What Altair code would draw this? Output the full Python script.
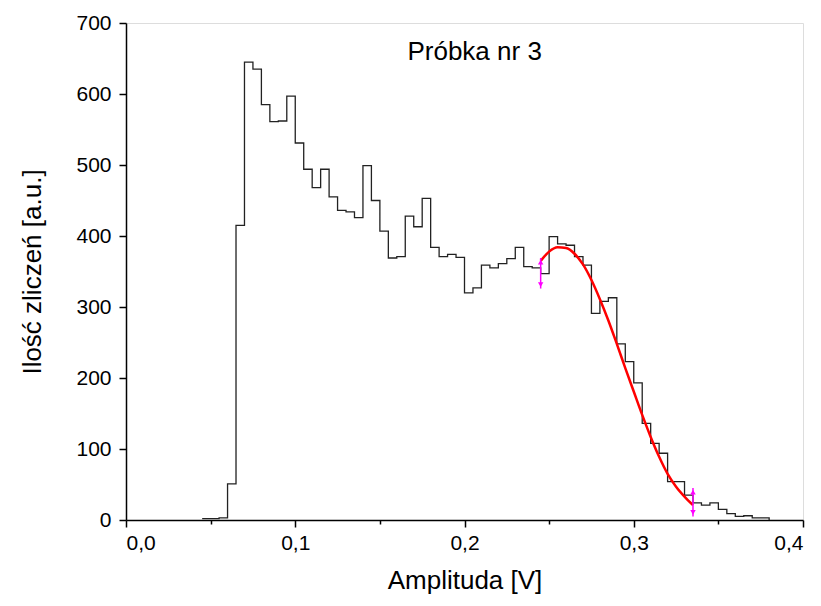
import altair as alt
import pandas as pd

# Histogram: left bin edges (V) and counts
bin_left = [0.045, 0.050, 0.055, 0.060, 0.065, 0.070, 0.075, 0.080, 0.085, 0.090,
            0.095, 0.100, 0.105, 0.110, 0.115, 0.120, 0.125, 0.130, 0.135, 0.140,
            0.145, 0.150, 0.155, 0.160, 0.165, 0.170, 0.175, 0.180, 0.185, 0.190,
            0.195, 0.200, 0.205, 0.210, 0.215, 0.220, 0.225, 0.230, 0.235, 0.240,
            0.245, 0.250, 0.255, 0.260, 0.265, 0.270, 0.275, 0.280, 0.285, 0.290,
            0.295, 0.300, 0.305, 0.310, 0.315, 0.320, 0.325, 0.330, 0.335, 0.340,
            0.345, 0.350, 0.355, 0.360, 0.365, 0.370, 0.375, 0.380]
counts = [2, 2, 3, 51, 415, 645, 635, 585, 561, 562,
          597, 531, 494, 468, 494, 455, 436, 434, 426, 499,
          450, 407, 369, 371, 428, 413, 453, 384, 371, 374,
          370, 320, 327, 359, 355, 361, 368, 384, 357, 355,
          347, 399, 389, 387, 371, 359, 291, 308, 313, 248,
          223, 193, 136, 108, 94, 54, 54, 35, 24, 21,
          24, 15, 9, 5, 6, 3, 3, 0]

# Fitted curve
fit_x = [0.245, 0.250, 0.255, 0.260, 0.265, 0.270, 0.275, 0.280, 0.285, 0.290,
         0.295, 0.300, 0.305, 0.310, 0.315, 0.320, 0.325, 0.330, 0.335]
fit_y = [365, 378, 384, 383, 375, 360, 338, 311, 281, 248,
         214, 181, 148, 117, 89, 65, 47, 33, 21]

# Fit range markers
marker_x = [0.245, 0.335]
marker_lo = [326, 5]
marker_hi = [369, 45]

title_text = ["Próbka nr 3"]
title_x = [0.206]
title_y = [659]

FONT = "Liberation Sans"

hist_df = pd.DataFrame({"x": bin_left, "y": counts})
fit_df = pd.DataFrame({"x": fit_x, "y": fit_y})
mk_df = pd.DataFrame({"x": marker_x, "lo": marker_lo, "hi": marker_hi})
txt_df = pd.DataFrame({"t": title_text, "x": title_x, "y": title_y})

x_vals = [round(i * 0.05, 2) for i in range(9)]
y_vals = [i * 50 for i in range(15)]

x_scale = alt.Scale(domain=[0, 0.4], nice=False, zero=False)
y_scale = alt.Scale(domain=[0, 700], nice=False)

x_axis = alt.Axis(
    title="Amplituda [V]",
    values=x_vals,
    grid=False,
    domainColor="black",
    domainWidth=1.5,
    tickColor="black",
    tickWidth=1.5,
    tickSize={"condition": {"test": "abs(datum.value*10 - round(datum.value*10)) < 1e-6", "value": 7}, "value": 4},
    labelExpr="abs(datum.value*10 - round(datum.value*10)) < 1e-6 ? replace(format(datum.value, '.1f'), '.', ',') : ''",
    labelFont=FONT, labelFontSize=21, labelColor="black", labelPadding=5,
    titleFont=FONT, titleFontSize=26, titleFontWeight="normal", titleColor="black", titlePadding=14,
)
y_axis = alt.Axis(
    title="Ilość zliczeń [a.u.]",
    values=y_vals,
    grid=False,
    domainColor="black",
    domainWidth=1.5,
    tickColor="black",
    tickWidth=1.5,
    tickSize={"condition": {"test": "datum.value % 100 === 0", "value": 7}, "value": 4},
    labelExpr="datum.value % 100 === 0 ? format(datum.value, 'd') : ''",
    labelFont=FONT, labelFontSize=21, labelColor="black", labelPadding=8,
    titleFont=FONT, titleFontSize=26, titleFontWeight="normal", titleColor="black", titlePadding=30,
)

hist = alt.Chart(hist_df).mark_line(interpolate="step-after", color="#222222", strokeWidth=1.3).encode(
    x=alt.X("x:Q", scale=x_scale, axis=x_axis),
    y=alt.Y("y:Q", scale=y_scale, axis=y_axis),
)

fit = alt.Chart(fit_df).mark_line(interpolate="monotone", color="#FF0000", strokeWidth=2.5).encode(
    x="x:Q", y="y:Q"
)

rules = alt.Chart(mk_df).mark_rule(color="#FF00FF", strokeWidth=1.5).encode(
    x="x:Q", y="lo:Q", y2="hi:Q"
)
up = alt.Chart(mk_df).mark_point(shape="triangle-up", filled=True, color="#FF00FF", size=30, opacity=1, yOffset=4).encode(
    x="x:Q", y="hi:Q"
)
down = alt.Chart(mk_df).mark_point(shape="triangle-down", filled=True, color="#FF00FF", size=30, opacity=1, yOffset=-4).encode(
    x="x:Q", y="lo:Q"
)

txt = alt.Chart(txt_df).mark_text(font=FONT, fontSize=26, color="black", baseline="middle", align="center").encode(
    x="x:Q", y="y:Q", text="t:N"
)

chart = alt.layer(hist, fit, rules, up, down, txt).properties(
    width=677, height=497,
    autosize=alt.AutoSizeParams(type="none"),
    padding={"left": 118, "top": 15, "right": 10, "bottom": 76},
).configure_view(stroke="black", strokeWidth=1.5).configure(background="white")

chart.save("out.html", embed_options={"renderer": "svg", "actions": False})
